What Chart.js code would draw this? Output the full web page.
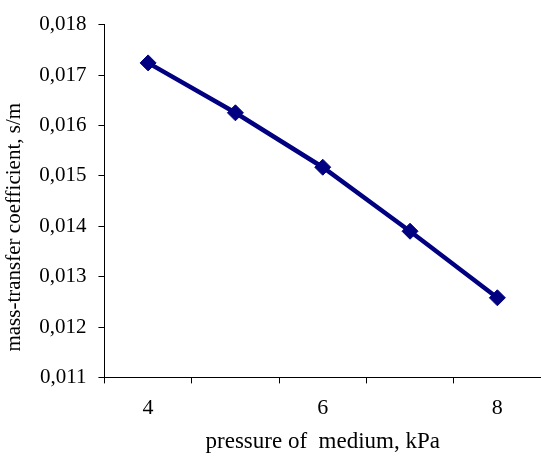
<!DOCTYPE html>
<html>
<head>
<meta charset="utf-8">
<script src="https://cdn.jsdelivr.net/npm/chart.js@4.4.0/dist/chart.umd.min.js"></script>
<style>
  html, body { margin: 0; padding: 0; background: #fff; overflow: hidden; }
  #wrap { width: 541px; height: 458px; }
</style>
</head>
<body>
<div id="wrap"><canvas id="chart" width="541" height="458"></canvas></div>
<script>
// pressure of medium, kPa
const pressures = ['4', '5', '6', '7', '8'];
// mass-transfer coefficient, s/m
const coefficients = [0.01724, 0.01625, 0.01517, 0.0139, 0.01258];
const yMin = 0.011;
const yMax = 0.018;
const yStep = 0.001;

const serif = '"Liberation Serif", "Times New Roman", serif';

new Chart(document.getElementById('chart'), {
  type: 'line',
  data: {
    labels: pressures,
    datasets: [{
      data: coefficients,
      borderColor: '#000080',
      backgroundColor: '#000080',
      borderWidth: 4.5,
      tension: 0,
      pointStyle: 'rectRot',
      pointRadius: 8,
      pointBorderWidth: 1,
      pointBackgroundColor: '#000080',
      pointBorderColor: '#000080'
    }]
  },
  options: {
    responsive: false,
    animation: false,
    layout: { autoPadding: false, padding: { top: 9, right: 0, bottom: 0, left: 2 } },
    plugins: {
      legend: { display: false },
      tooltip: { enabled: false }
    },
    scales: {
      x: {
        type: 'category',
        offset: true,
        grid: {
          offset: true,
          drawOnChartArea: false,
          drawTicks: true,
          tickLength: 6,
          color: '#000'
        },
        border: { display: true, color: '#000', width: 1 },
        ticks: {
          autoSkip: false,
          maxRotation: 0,
          color: '#000',
          padding: 14,
          font: { family: serif, size: 22, lineHeight: 1 },
          callback: function (val, i) { return i % 2 === 0 ? pressures[i] : ''; }
        },
        title: {
          display: true,
          text: 'pressure of  medium, kPa',
          color: '#000',
          padding: { top: -5, bottom: 2 },
          font: { family: serif, size: 23 }
        }
      },
      y: {
        min: yMin,
        max: yMax,
        grid: {
          drawOnChartArea: false,
          drawTicks: true,
          tickLength: 6,
          color: '#000'
        },
        border: { display: true, color: '#000', width: 1 },
        ticks: {
          stepSize: yStep,
          color: '#000',
          padding: 12,
          font: { family: serif, size: 21 },
          callback: function (v) { return v.toFixed(3).replace('.', ','); }
        },
        title: {
          display: true,
          // trailing spaces push the title down the axis as in the original
          text: 'mass-transfer coefficient, s/m          ',
          color: '#000',
          padding: { top: 0, bottom: 0 },
          font: { family: serif, size: 21 }
        }
      }
    }
  }
});
</script>
</body>
</html>
